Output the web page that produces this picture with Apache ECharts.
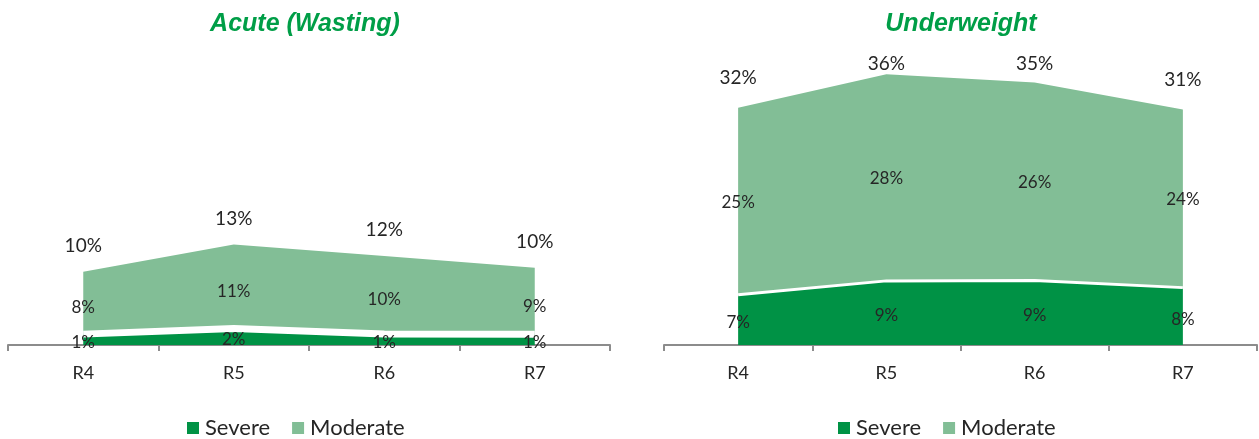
<!DOCTYPE html>
<html>
<head>
<meta charset="utf-8">
<script src="https://cdn.jsdelivr.net/npm/echarts@6/dist/echarts.min.js"></script>
<style>
html,body{margin:0;padding:0;background:#fff;}
#c{width:1259px;height:439px;}
</style>
</head>
<body>
<div id="c"></div>
<script>
// ---- Data ----
const categories = ['R4', 'R5', 'R6', 'R7'];
const wastingSevere = [1.45, 2.2, 1.48, 1.42];
const wastingModerate = [8.33, 11.2, 10.39, 8.88];
const underweightSevere = [6.7, 8.55, 8.6, 7.65];
const underweightModerate = [24.95, 27.55, 26.4, 23.75];
const titles = ['Acute (Wasting)', 'Underweight'];
const legendNames = ['Severe', 'Moderate'];
const yMax = 40;

// ---- Style / layout ----
const SEV = '#009245';
const MOD = '#82BE96';
const TXT = '#262626';
const FONT = 'Lato';
const GRID_TOP = 45, GRID_H = 300;
const PPU = GRID_H / yMax;

const grids = [
  { left: 8, width: 602, top: GRID_TOP, height: GRID_H, titleX: 305, legendX: 187, gap: 7, sevK: 3, modK: 5, totOff: 26, totMinY: 64 },
  { left: 664, width: 593, top: GRID_TOP, height: GRID_H, titleX: 961, legendX: 838, gap: 3, sevK: 3, modK: 1, totOff: 30, totMinY: 64 }
];

const pct = p => Math.round(p.value) + '%';

function makeSeries(g, severe, moderate) {
  const cfg = grids[g];
  const totals = severe.map((v, i) => v + moderate[i]);
  const common = {
    type: 'line', xAxisIndex: g, yAxisIndex: g, symbol: 'circle', symbolSize: 1,
    showSymbol: true, silent: true, animation: false,
    itemStyle: { color: 'rgba(0,0,0,0)', borderWidth: 0 },
    emphasis: { disabled: true }
  };
  return [
    Object.assign({}, common, {
      name: legendNames[0], stack: 'st' + g, z: 3,
      data: severe.map(v => ({ value: v, label: { offset: [0, v * PPU / 2 + cfg.sevK] } })),
      lineStyle: { color: '#fff', width: cfg.gap },
      areaStyle: { color: SEV, opacity: 1 },
      label: { show: true, position: 'inside', formatter: pct, color: TXT, fontFamily: FONT, fontSize: 17 }
    }),
    Object.assign({}, common, {
      name: legendNames[1], stack: 'st' + g, z: 2,
      data: moderate.map(v => ({ value: v, label: { offset: [0, v * PPU / 2 + cfg.modK] } })),
      lineStyle: { opacity: 0, width: 0 },
      areaStyle: { color: MOD, opacity: 1 },
      label: { show: true, position: 'inside', formatter: pct, color: TXT, fontFamily: FONT, fontSize: 17 }
    }),
    Object.assign({}, common, {
      name: 'Total', z: 4,
      data: totals.map(t => {
        const py = cfg.top + cfg.height - t * PPU;
        const ly = Math.max(py - cfg.totOff, cfg.totMinY);
        return { value: t, label: { offset: [0, ly - py] } };
      }),
      lineStyle: { opacity: 0, width: 0 },
      label: { show: true, position: 'inside', formatter: pct, color: TXT, fontFamily: FONT, fontSize: 19 }
    })
  ];
}

const chart = echarts.init(document.getElementById('c'), null, { renderer: 'canvas' });

const option = {
  animation: false,
  grid: grids.map(c => ({ left: c.left, width: c.width, top: c.top, height: c.height, containLabel: false })),
  xAxis: grids.map((c, i) => ({
    type: 'category', gridIndex: i, data: categories, boundaryGap: true,
    axisLine: { show: true, lineStyle: { color: '#8c8c8c', width: 2 } },
    axisTick: { show: true, length: 6, lineStyle: { color: '#8c8c8c', width: 2 } },
    axisLabel: { color: TXT, fontFamily: FONT, fontSize: 18, margin: 19 },
    splitLine: { show: false }
  })),
  yAxis: grids.map((c, i) => ({
    type: 'value', gridIndex: i, min: 0, max: yMax, show: false, splitLine: { show: false }
  })),
  legend: grids.map(c => ({
    left: c.legendX, top: 416, padding: 0, itemWidth: 12, itemHeight: 12, itemGap: 22,
    icon: 'rect', selectedMode: false,
    data: [
      { name: legendNames[0], itemStyle: { color: SEV, borderWidth: 0 } },
      { name: legendNames[1], itemStyle: { color: MOD, borderWidth: 0 } }
    ],
    textStyle: { fontFamily: FONT, fontSize: 22, lineHeight: 24, color: TXT, padding: [0, 0, 0, 1] }
  })),
  graphic: grids.map((c, i) => ({
    type: 'text', x: c.titleX, y: 24, silent: true,
    style: {
      text: titles[i], align: 'center', verticalAlign: 'middle',
      font: 'italic bold 25px "Liberation Sans", Arial, sans-serif', fill: '#009E47'
    }
  })),
  series: [].concat(
    makeSeries(0, wastingSevere, wastingModerate),
    makeSeries(1, underweightSevere, underweightModerate)
  )
};
chart.setOption(option);
</script>
</body>
</html>
